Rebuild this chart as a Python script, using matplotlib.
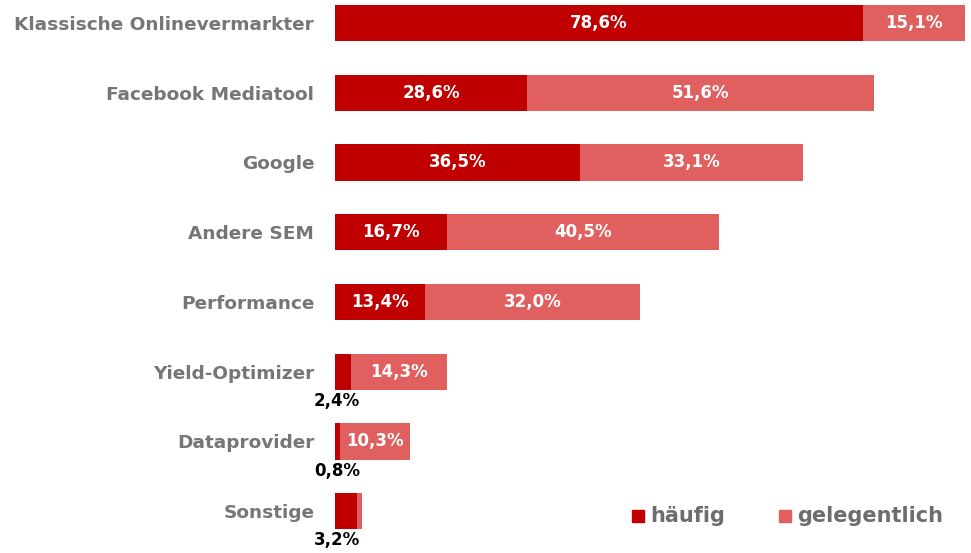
import matplotlib.pyplot as plt

categories = ["Klassische Onlinevermarkter", "Facebook Mediatool", "Google", "Andere SEM",
              "Performance", "Yield-Optimizer", "Dataprovider", "Sonstige"]
haeufig = [78.6, 28.6, 36.5, 16.7, 13.4, 2.4, 0.8, 3.2]
gelegentlich = [15.1, 51.6, 33.1, 40.5, 32.0, 14.3, 10.3, 0.8]
# which gelegentlich values get a label (Sonstige has none)
show_geleg = [True, True, True, True, True, True, True, False]

dark = "#C00000"
light = "#E06060"
grey = "#767676"

fig = plt.figure(figsize=(9.71, 5.53), dpi=100)
ax = fig.add_axes([335 / 971, 0, 636 / 971, 1])

y = list(range(len(categories)))
ax.barh(y, haeufig, height=0.52, color=dark)
ax.barh(y, gelegentlich, left=haeufig, height=0.52, color=light)

ax.set_xlim(0, 636 / 6.72)
ax.set_ylim(7.6, -0.33)

ax.set_yticks(y)
ax.set_yticklabels(categories, fontsize=13.3, fontweight="bold", color=grey)
ax.tick_params(axis="y", length=0, pad=15)
ax.set_xticks([])
for s in ax.spines.values():
    s.set_visible(False)

def fmt(v):
    return f"{v:.1f}%".replace(".", ",")

for i, (h, g) in enumerate(zip(haeufig, gelegentlich)):
    if h >= 10:
        ax.text(h / 2, i, fmt(h), ha="center", va="center", color="white",
                fontsize=12, fontweight="bold")
    else:
        ax.text(0.3, i + 0.42, fmt(h), ha="center", va="center", color="black",
                fontsize=12, fontweight="bold")
    if show_geleg[i]:
        ax.text(h + g / 2, i, fmt(g), ha="center", va="center", color="white",
                fontsize=12, fontweight="bold")

# legend
fig.patches.append(plt.Rectangle((632 / 971, 1 - 522 / 553), 12 / 971, 12 / 553,
                                 transform=fig.transFigure, color=dark))
fig.text(650 / 971, 1 - 516 / 553, "häufig", fontsize=15, fontweight="bold",
         color="#6d6d6d", va="center")
fig.patches.append(plt.Rectangle((779 / 971, 1 - 522 / 553), 12 / 971, 12 / 553,
                                 transform=fig.transFigure, color=light))
fig.text(797 / 971, 1 - 516 / 553, "gelegentlich", fontsize=15, fontweight="bold",
         color="#6d6d6d", va="center")

fig.savefig("out.png", dpi=100)
